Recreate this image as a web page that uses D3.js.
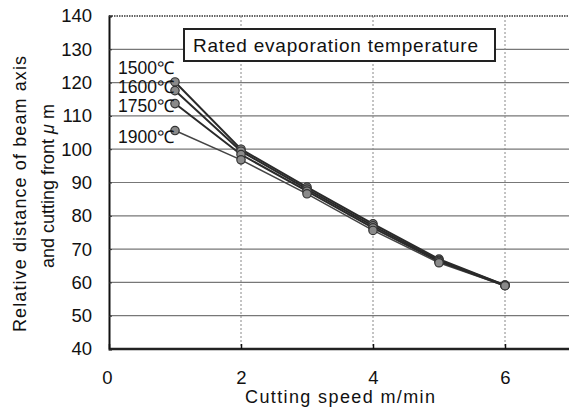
<!DOCTYPE html>
<html>
<head>
<meta charset="utf-8">
<script src="https://cdn.jsdelivr.net/npm/d3@7"></script>
<style>
  body { margin: 0; background: #fff; }
  text { font-family: "Liberation Sans", Arial, sans-serif; fill: #111; }
</style>
</head>
<body>
<div id="chart"></div>
<script>
// Data
var speeds = [1, 2, 3, 4, 5, 6];
var seriesNames = ["1500℃", "1600℃", "1750℃", "1900℃"];
var t1500 = [120.2, 100.0, 88.6, 77.6, 67.0, 59.2];
var t1600 = [117.6, 99.4, 88.0, 77.0, 66.6, 59.2];
var t1750 = [113.7, 98.4, 87.4, 76.4, 66.3, 59.0];
var t1900 = [105.6, 96.8, 86.6, 75.6, 65.9, 59.0];
var yTicks = [40, 50, 60, 70, 80, 90, 100, 110, 120, 130, 140];
var xTicks = [0, 2, 4, 6];
var labelY = [68, 87, 106, 137];

var svgWidth = 569, svgHeight = 412;
var margin = { top: 16, left: 109, bottom: 63 };

var svg = d3.select("#chart")
  .append("svg")
  .attr("width", svgWidth)
  .attr("height", svgHeight);

var x = d3.scaleLinear().domain([0, 7]).range([margin.left, margin.left + 7 * 66]);
var y = d3.scaleLinear().domain([40, 140]).range([svgHeight - margin.bottom, margin.top]);

var chart = svg.append("g");

// horizontal grid
chart.selectAll(".hgrid")
  .data(yTicks.filter(function(d) { return d > 40 && d < 140; }))
  .enter().append("line")
    .attr("x1", x(0)).attr("x2", svgWidth)
    .attr("y1", function(d) { return y(d); })
    .attr("y2", function(d) { return y(d); })
    .attr("stroke", "#777")
    .attr("stroke-width", 1.2);

// vertical dotted grid
chart.selectAll(".vgrid")
  .data(xTicks.filter(function(d) { return d > 0; }))
  .enter().append("line")
    .attr("x1", function(d) { return x(d); })
    .attr("x2", function(d) { return x(d); })
    .attr("y1", y(140)).attr("y2", y(40))
    .attr("stroke", "#888")
    .attr("stroke-width", 1)
    .attr("stroke-dasharray", "2,2");

// top border (dotted)
chart.append("line")
  .attr("x1", x(0)).attr("x2", svgWidth)
  .attr("y1", y(140)).attr("y2", y(140))
  .attr("stroke", "#666")
  .attr("stroke-width", 2)
  .attr("stroke-dasharray", "1.5,1");

// axes
var leftAxis = d3.axisLeft(y).tickValues(yTicks).tickSize(-3).tickPadding(17);
var bottomAxis = d3.axisBottom(x).tickValues(xTicks).tickFormat(d3.format("d")).tickSize(-5).tickPadding(22);

var gy = chart.append("g")
  .attr("transform", "translate(" + x(0) + ",0)")
  .call(leftAxis);
gy.select(".domain").attr("stroke", "#111").attr("stroke-width", 2);
gy.selectAll(".tick line").attr("stroke", "#333");
gy.selectAll("text").style("font-size", "18.5px").attr("fill", "#111");

var gx = chart.append("g")
  .attr("transform", "translate(0," + y(40) + ")")
  .call(bottomAxis);
gx.select(".domain").attr("d", "M" + x(0) + ",0H" + svgWidth).attr("stroke", "#222").attr("stroke-width", 2.5);
gx.selectAll(".tick line").attr("stroke", "#111").attr("stroke-width", 1.5);
gx.selectAll("text").style("font-size", "18.5px").attr("fill", "#111");
gx.selectAll(".tick").filter(function(d) { return d === 0; }).select("text").attr("dx", -2);

// series
var allSeries = [t1500, t1600, t1750, t1900];
var line = d3.line()
  .x(function(d, i) { return x(speeds[i]); })
  .y(function(d) { return y(d); });

allSeries.slice().reverse().forEach(function(vals, k) {
  var idx = allSeries.length - 1 - k;
  chart.append("path")
    .datum(vals)
    .attr("d", line)
    .attr("fill", "none")
    .attr("stroke", idx === 3 ? "#444" : "#2a2a2a")
    .attr("stroke-width", idx === 3 ? 1.5 : 2);
});

allSeries.forEach(function(vals) {
  chart.selectAll(null)
    .data(vals)
    .enter().append("circle")
      .attr("cx", function(d, i) { return x(speeds[i]); })
      .attr("cy", function(d) { return y(d); })
      .attr("r", 4.2)
      .attr("fill", "#8a8a8a")
      .attr("stroke", "#333")
      .attr("stroke-width", 1.2);
});

// series labels
chart.selectAll(".slabel")
  .data(seriesNames)
  .enter().append("text")
    .attr("x", 118)
    .attr("y", function(d, i) { return labelY[i]; })
    .attr("dy", "0.36em")
    .attr("textLength", 56)
    .attr("lengthAdjust", "spacing")
    .style("font-size", "17.5px")
    .text(function(d) { return d; });

// legend box
chart.append("rect")
  .attr("x", 184).attr("y", 29)
  .attr("width", 311).attr("height", 32)
  .attr("fill", "#fff")
  .attr("stroke", "#222")
  .attr("stroke-width", 2);
chart.append("text")
  .attr("x", 193).attr("y", 45)
  .attr("dy", "0.36em")
  .attr("textLength", 285)
  .attr("lengthAdjust", "spacing")
  .style("font-size", "19px")
  .text("Rated evaporation temperature");

// axis titles
chart.append("text")
  .attr("x", 340).attr("y", 403)
  .attr("text-anchor", "middle")
  .attr("textLength", 190)
  .attr("lengthAdjust", "spacing")
  .style("font-size", "18px")
  .text("Cutting speed m/min");

chart.append("text")
  .attr("transform", "translate(26,194) rotate(-90)")
  .attr("text-anchor", "middle")
  .attr("textLength", 276)
  .attr("lengthAdjust", "spacing")
  .style("font-size", "18px")
  .text("Relative distance of beam axis");

var t2 = chart.append("text")
  .attr("transform", "translate(54,186) rotate(-90)")
  .attr("text-anchor", "middle")
  .style("font-size", "18px");
t2.append("tspan").text("and cutting front ");
t2.append("tspan").style("font-style", "italic").text("μ");
t2.append("tspan").text(" m");
</script>
</body>
</html>
